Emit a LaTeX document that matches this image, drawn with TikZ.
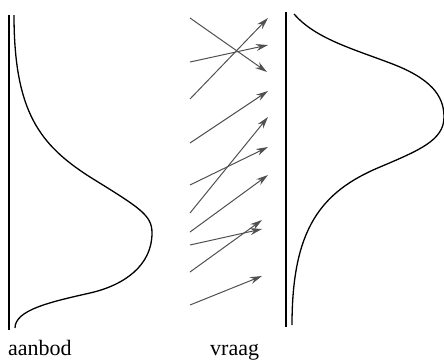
\documentclass[tikz,border=0pt]{standalone}
\usepackage{fontspec}
\setmainfont{Liberation Serif}
\usetikzlibrary{arrows.meta}
\definecolor{arrowgray}{RGB}{80,80,80}

\begin{document}
\begin{tikzpicture}[
    x=1pt, y=-1pt,
    >={Stealth[length=12pt, width=7pt]},
    axis/.style={draw, line width=1.1pt},
    bell/.style={draw, line width=1.3pt},
    wish/.style={->, draw=arrowgray, line width=1pt},
    lbl/.style={font=\fontsize{22}{26}\selectfont, inner sep=0pt, anchor=base west},
]
    \useasboundingbox (0,0) rectangle (444,360);

    % aanbod
    \coordinate (atop) at (9,15);
    \coordinate (abot) at (9,330);
    \draw[axis] (atop) -- (abot);
    \draw[bell] (14,15) .. controls (14,112) and (40,145) .. (90,177)
        .. controls (140,208) and (152,215) .. (152,233)
        .. controls (152,265) and (125,285) .. (90,293)
        .. controls (50,302) and (15,310) .. (15,328);

    % vraag
    \coordinate (vtop) at (286,12);
    \coordinate (vbot) at (286,327);
    \draw[axis] (vtop) -- (vbot);
    \draw[bell] (294,14) .. controls (315,38) and (350,48) .. (390,63)
        .. controls (430,78) and (444,95) .. (444,117)
        .. controls (444,140) and (420,150) .. (380,167)
        .. controls (320,192) and (292,230) .. (292,325);

    % wensen
    \foreach \i/\sy/\ex/\ey in {1/18/267/72, 2/62/268/45, 3/99/268/18,
        4/143/268/91, 5/213/268/117, 6/185/268/147, 7/232/268/175,
        8/245/262/229, 9/272/262/220, 10/305/262/276}{
        \coordinate (s\i) at (190,\sy);
        \coordinate (e\i) at (\ex,\ey);
        \draw[wish] (s\i) -- (e\i);
    }

    \node[lbl] (aanbod) at (8,355) {aanbod};
    \node[lbl] (vraag) at (210,355) {vraag};
\end{tikzpicture}
\end{document}
